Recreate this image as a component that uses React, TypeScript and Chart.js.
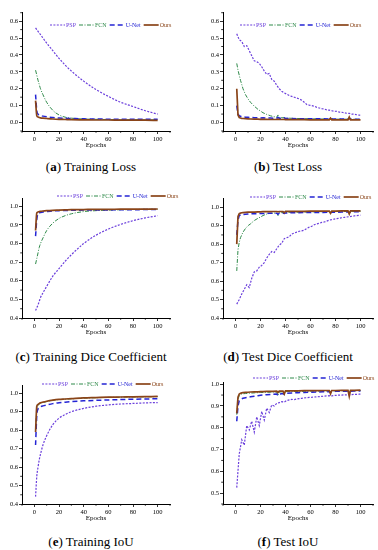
import React, { useEffect, useRef } from "react";
import { Chart, registerables } from "chart.js";

Chart.register(...registerables);

// ---------- series identity ----------
const SERIES_NAMES = ["PSP", "FCN", "U-Net", "Ours"];
const SERIES_COLORS = ["#6b3fdc", "#2f8a4a", "#2424d4", "#8a4418"];
const SERIES_DASH: number[][] = [[2, 1.4], [4, 1.5, 1, 1.5], [5, 3], []];
const SERIES_WIDTH = [1.2, 1, 1.5, 1.7];
const SERIES_ORDER = [3, 2, 1, 0];

// ---------- ticks ----------
const X_TICKS = [0, 20, 40, 60, 80, 100];
const X_MINOR = [-10, 10, 30, 50, 70, 90, 110];
const LOSS_TICKS = [0, 0.1, 0.2, 0.3, 0.4, 0.5, 0.6];
const LOSS_MINOR = [-0.05, 0.05, 0.15, 0.25, 0.35, 0.45, 0.55, 0.65];
const SCORE_TICKS = [0.4, 0.5, 0.6, 0.7, 0.8, 0.9, 1.0];
const SCORE_MINOR = [0.45, 0.55, 0.65, 0.75, 0.85, 0.95];
const IOU_TEST_TICKS = [0.5, 0.6, 0.7, 0.8, 0.9, 1.0];
const IOU_TEST_MINOR = [0.45, 0.55, 0.65, 0.75, 0.85, 0.95];

// ---------- epochs ----------
const EPOCHS_SMOOTH = [1, 2, 3, 4, 5, 7, 10, 15, 20, 25, 30, 40, 50, 60, 70, 80, 90, 100];
const EPOCHS_TEST = [1, 2, 3, 4, 5, 6, 8, 10, 12, 15, 18, 20, 22, 25, 28, 30, 33, 34, 35, 38, 39, 40, 45, 50, 55, 60, 65, 70, 75, 76, 77, 80, 85, 90, 91, 92, 95, 100];
const EPOCHS_PSP = [1, 3, 5, 7, 9, 11, 13, 15, 17, 19, 21, 23, 25, 27, 29, 31, 33, 35, 37, 39, 41, 43, 45, 47, 49, 51, 53, 55, 57, 59, 61, 63, 65, 67, 69, 71, 73, 75, 77, 79, 81, 83, 85, 87, 89, 91, 93, 95, 97, 99, 100];

// ---------- (a) Training Loss ----------
const A_PSP = [0.56, 0.55, 0.54, 0.53, 0.52, 0.5, 0.47, 0.425, 0.38, 0.34, 0.305, 0.245, 0.195, 0.155, 0.12, 0.095, 0.07, 0.05];
const A_FCN = [0.31, 0.28, 0.25, 0.225, 0.2, 0.165, 0.12, 0.072, 0.045, 0.032, 0.026, 0.021, 0.019, 0.018, 0.017, 0.017, 0.016, 0.016];
const A_UNET = [0.165, 0.07, 0.05, 0.045, 0.042, 0.038, 0.034, 0.03, 0.027, 0.025, 0.024, 0.022, 0.021, 0.02, 0.02, 0.019, 0.019, 0.019];
const A_OURS = [0.13, 0.04, 0.033, 0.03, 0.028, 0.026, 0.024, 0.021, 0.019, 0.018, 0.017, 0.016, 0.015, 0.015, 0.014, 0.014, 0.014, 0.013];

// ---------- (b) Test Loss ----------
const B_PSP = [0.525, 0.49, 0.48, 0.45, 0.455, 0.425, 0.395, 0.365, 0.36, 0.35, 0.33, 0.305, 0.285, 0.29, 0.255, 0.245, 0.22, 0.2, 0.185, 0.175, 0.168, 0.16, 0.155, 0.15, 0.145, 0.14, 0.132, 0.12, 0.107, 0.103, 0.1, 0.097, 0.09, 0.086, 0.082, 0.08, 0.075, 0.073, 0.07, 0.067, 0.066, 0.062, 0.061, 0.058, 0.055, 0.054, 0.05, 0.049, 0.046, 0.044, 0.043];
const B_FCN = [0.35, 0.31, 0.28, 0.25, 0.225, 0.2, 0.165, 0.14, 0.12, 0.097, 0.078, 0.068, 0.058, 0.048, 0.04, 0.036, 0.031, 0.045, 0.03, 0.028, 0.029, 0.027, 0.025, 0.024, 0.023, 0.022, 0.022, 0.021, 0.021, 0.021, 0.021, 0.02, 0.02, 0.02, 0.02, 0.02, 0.019, 0.019];
const B_UNET = [0.1, 0.05, 0.04, 0.037, 0.035, 0.034, 0.032, 0.031, 0.03, 0.029, 0.028, 0.027, 0.028, 0.026, 0.027, 0.025, 0.026, 0.03, 0.025, 0.025, 0.028, 0.024, 0.024, 0.023, 0.023, 0.022, 0.022, 0.022, 0.021, 0.024, 0.021, 0.021, 0.021, 0.02, 0.026, 0.02, 0.02, 0.02];
const B_OURS = [0.2, 0.045, 0.03, 0.027, 0.025, 0.024, 0.023, 0.022, 0.021, 0.02, 0.02, 0.019, 0.019, 0.019, 0.018, 0.018, 0.018, 0.02, 0.018, 0.018, 0.019, 0.017, 0.017, 0.017, 0.017, 0.016, 0.016, 0.016, 0.016, 0.026, 0.016, 0.016, 0.016, 0.016, 0.032, 0.016, 0.016, 0.016];

// ---------- (c) Training Dice Coefficient ----------
const C_PSP = [0.44, 0.455, 0.47, 0.49, 0.51, 0.535, 0.57, 0.625, 0.665, 0.705, 0.74, 0.8, 0.845, 0.878, 0.903, 0.923, 0.938, 0.95];
const C_FCN = [0.69, 0.72, 0.75, 0.78, 0.8, 0.83, 0.87, 0.91, 0.935, 0.95, 0.96, 0.972, 0.977, 0.98, 0.982, 0.983, 0.984, 0.985];
const C_UNET = [0.84, 0.93, 0.96, 0.965, 0.967, 0.97, 0.972, 0.975, 0.977, 0.978, 0.979, 0.98, 0.981, 0.981, 0.982, 0.982, 0.983, 0.983];
const C_OURS = [0.87, 0.965, 0.97, 0.972, 0.973, 0.975, 0.977, 0.979, 0.98, 0.981, 0.982, 0.983, 0.984, 0.984, 0.985, 0.985, 0.985, 0.986];

// ---------- (d) Test Dice Coefficient ----------
const D_PSP = [0.475, 0.5, 0.53, 0.555, 0.58, 0.565, 0.615, 0.65, 0.655, 0.675, 0.685, 0.7, 0.725, 0.745, 0.76, 0.755, 0.775, 0.795, 0.805, 0.83, 0.835, 0.84, 0.855, 0.86, 0.865, 0.87, 0.872, 0.876, 0.885, 0.892, 0.897, 0.905, 0.91, 0.913, 0.918, 0.92, 0.925, 0.93, 0.933, 0.936, 0.938, 0.94, 0.943, 0.945, 0.947, 0.949, 0.951, 0.953, 0.955, 0.956, 0.957];
const D_FCN = [0.655, 0.77, 0.81, 0.835, 0.85, 0.865, 0.885, 0.9, 0.91, 0.928, 0.94, 0.947, 0.955, 0.963, 0.967, 0.968, 0.969, 0.955, 0.97, 0.971, 0.966, 0.972, 0.973, 0.973, 0.974, 0.975, 0.975, 0.976, 0.976, 0.971, 0.976, 0.977, 0.977, 0.977, 0.972, 0.977, 0.978, 0.978];
const D_UNET = [0.85, 0.93, 0.955, 0.958, 0.96, 0.961, 0.962, 0.963, 0.964, 0.965, 0.965, 0.966, 0.966, 0.967, 0.967, 0.968, 0.968, 0.962, 0.968, 0.969, 0.966, 0.969, 0.97, 0.97, 0.971, 0.971, 0.972, 0.972, 0.973, 0.97, 0.973, 0.973, 0.974, 0.974, 0.971, 0.974, 0.975, 0.975];
const D_OURS = [0.8, 0.95, 0.965, 0.968, 0.97, 0.971, 0.972, 0.973, 0.974, 0.974, 0.975, 0.975, 0.976, 0.976, 0.976, 0.977, 0.977, 0.975, 0.977, 0.977, 0.97, 0.978, 0.978, 0.978, 0.978, 0.979, 0.979, 0.979, 0.979, 0.967, 0.979, 0.979, 0.98, 0.98, 0.963, 0.98, 0.98, 0.98];

// ---------- (e) Training IoU ----------
const E_PSP = [0.44, 0.55, 0.6, 0.64, 0.67, 0.72, 0.77, 0.83, 0.865, 0.885, 0.9, 0.918, 0.93, 0.937, 0.942, 0.945, 0.948, 0.95];
const E_FCN = [0.8, 0.91, 0.935, 0.942, 0.946, 0.95, 0.955, 0.962, 0.966, 0.968, 0.97, 0.974, 0.976, 0.978, 0.979, 0.98, 0.981, 0.982];
const E_UNET = [0.72, 0.88, 0.915, 0.922, 0.927, 0.932, 0.937, 0.944, 0.949, 0.952, 0.955, 0.959, 0.962, 0.964, 0.966, 0.968, 0.969, 0.971];
const E_OURS = [0.79, 0.93, 0.94, 0.945, 0.948, 0.952, 0.957, 0.963, 0.967, 0.969, 0.971, 0.975, 0.977, 0.979, 0.98, 0.981, 0.982, 0.983];

// ---------- (f) Test IoU ----------
const F_PSP = [0.525, 0.68, 0.745, 0.72, 0.81, 0.79, 0.83, 0.78, 0.85, 0.81, 0.875, 0.835, 0.89, 0.87, 0.905, 0.9, 0.912, 0.915, 0.92, 0.918, 0.925, 0.928, 0.93, 0.929, 0.932, 0.934, 0.935, 0.937, 0.938, 0.939, 0.94, 0.941, 0.942, 0.943, 0.944, 0.945, 0.946, 0.947, 0.946, 0.948, 0.949, 0.95, 0.95, 0.951, 0.951, 0.952, 0.952, 0.953, 0.953, 0.954, 0.954];
const F_FCN = [0.86, 0.93, 0.948, 0.952, 0.955, 0.956, 0.957, 0.958, 0.959, 0.96, 0.961, 0.962, 0.962, 0.963, 0.963, 0.964, 0.964, 0.948, 0.964, 0.965, 0.962, 0.966, 0.966, 0.967, 0.967, 0.968, 0.968, 0.969, 0.969, 0.965, 0.969, 0.97, 0.97, 0.97, 0.966, 0.97, 0.971, 0.971];
const F_UNET = [0.83, 0.9, 0.925, 0.93, 0.933, 0.935, 0.938, 0.94, 0.942, 0.945, 0.947, 0.949, 0.95, 0.952, 0.953, 0.954, 0.955, 0.948, 0.955, 0.957, 0.953, 0.958, 0.96, 0.961, 0.962, 0.963, 0.964, 0.965, 0.966, 0.963, 0.966, 0.967, 0.967, 0.968, 0.965, 0.968, 0.969, 0.969];
const F_OURS = [0.866, 0.94, 0.955, 0.958, 0.96, 0.961, 0.962, 0.963, 0.964, 0.965, 0.965, 0.966, 0.966, 0.967, 0.967, 0.967, 0.968, 0.962, 0.968, 0.968, 0.955, 0.969, 0.969, 0.969, 0.97, 0.97, 0.97, 0.971, 0.971, 0.956, 0.971, 0.971, 0.972, 0.972, 0.944, 0.972, 0.972, 0.973];

type SeriesSpec = { epochs: number[]; values: number[]; smooth: boolean };
type PanelSpec = {
  key: string;
  left: number;
  top: number;
  width: number;
  height: number;
  padTop: number;
  padRight: number;
  yAxisW: number;
  yMin: number;
  yMax: number;
  yTicks: number[];
  yMinor: number[];
  legendX: number;
  legendY: number;
  series: SeriesSpec[];
};

const S = (epochs: number[], values: number[], smooth: boolean): SeriesSpec => ({ epochs, values, smooth });

const PANELS: PanelSpec[] = [
  {
    key: "a",
    left: 0, top: 0, width: 190, height: 153, padTop: 12.7, padRight: 20, yAxisW: 22,
    yMin: -0.05, yMax: 0.65, yTicks: LOSS_TICKS, yMinor: LOSS_MINOR, legendX: 50, legendY: 25,
    series: [S(EPOCHS_SMOOTH, A_PSP, true), S(EPOCHS_SMOOTH, A_FCN, true), S(EPOCHS_SMOOTH, A_UNET, true), S(EPOCHS_SMOOTH, A_OURS, true)],
  },
  {
    key: "b",
    left: 190, top: 0, width: 188, height: 153, padTop: 12.7, padRight: 5, yAxisW: 33,
    yMin: -0.05, yMax: 0.65, yTicks: LOSS_TICKS, yMinor: LOSS_MINOR, legendX: 50, legendY: 25,
    series: [S(EPOCHS_PSP, B_PSP, false), S(EPOCHS_TEST, B_FCN, false), S(EPOCHS_TEST, B_UNET, false), S(EPOCHS_TEST, B_OURS, false)],
  },
  {
    key: "c",
    left: 0, top: 180, width: 190, height: 160, padTop: 18, padRight: 20, yAxisW: 22,
    yMin: 0.4, yMax: 1.045, yTicks: SCORE_TICKS, yMinor: SCORE_MINOR, legendX: 57, legendY: 16,
    series: [S(EPOCHS_SMOOTH, C_PSP, true), S(EPOCHS_SMOOTH, C_FCN, true), S(EPOCHS_SMOOTH, C_UNET, true), S(EPOCHS_SMOOTH, C_OURS, true)],
  },
  {
    key: "d",
    left: 190, top: 180, width: 188, height: 160, padTop: 18, padRight: 5, yAxisW: 33,
    yMin: 0.4, yMax: 1.05, yTicks: SCORE_TICKS, yMinor: SCORE_MINOR, legendX: 60, legendY: 17,
    series: [S(EPOCHS_PSP, D_PSP, false), S(EPOCHS_TEST, D_FCN, false), S(EPOCHS_TEST, D_UNET, false), S(EPOCHS_TEST, D_OURS, false)],
  },
  {
    key: "e",
    left: 0, top: 366, width: 190, height: 160, padTop: 19, padRight: 20, yAxisW: 22,
    yMin: 0.4, yMax: 1.045, yTicks: SCORE_TICKS, yMinor: SCORE_MINOR, legendX: 42, legendY: 18,
    series: [S(EPOCHS_SMOOTH, E_PSP, true), S(EPOCHS_SMOOTH, E_FCN, true), S(EPOCHS_SMOOTH, E_UNET, true), S(EPOCHS_SMOOTH, E_OURS, true)],
  },
  {
    key: "f",
    left: 190, top: 366, width: 188, height: 160, padTop: 16, padRight: 5, yAxisW: 33,
    yMin: 0.45, yMax: 1.01, yTicks: IOU_TEST_TICKS, yMinor: IOU_TEST_MINOR, legendX: 63, legendY: 12,
    series: [S(EPOCHS_PSP, F_PSP, false), S(EPOCHS_TEST, F_FCN, false), S(EPOCHS_TEST, F_UNET, false), S(EPOCHS_TEST, F_OURS, false)],
  },
];

const CAPTIONS = [
  { letter: "a", title: "Training Loss", cx: 91, cy: 167 },
  { letter: "b", title: "Test Loss", cx: 288, cy: 167 },
  { letter: "c", title: "Training Dice Coefficient", cx: 91, cy: 357 },
  { letter: "d", title: "Test Dice Coefficient", cx: 288, cy: 357 },
  { letter: "e", title: "Training IoU", cx: 91, cy: 542 },
  { letter: "f", title: "Test IoU", cx: 288, cy: 542 },
];

const SERIF = "'Liberation Serif', 'Times New Roman', serif";

const inlineLegend = {
  id: "inlineLegend",
  afterDraw(chart: any, _args: any, opts: any) {
    const ctx = chart.ctx;
    ctx.save();
    let x = opts.x;
    const y = opts.y;
    ctx.font = `${opts.fontSize}px ${SERIF}`;
    ctx.textBaseline = "middle";
    ctx.textAlign = "left";
    chart.data.datasets.forEach((ds: any) => {
      ctx.strokeStyle = ds.borderColor;
      ctx.lineWidth = ds.borderWidth;
      ctx.setLineDash(ds.borderDash || []);
      ctx.beginPath();
      ctx.moveTo(x, y);
      ctx.lineTo(x + opts.lineLen, y);
      ctx.stroke();
      x += opts.lineLen + 1;
      ctx.setLineDash([]);
      ctx.fillStyle = ds.borderColor;
      ctx.fillText(ds.label, x, y + 0.5);
      x += ctx.measureText(ds.label).width + opts.gap;
    });
    ctx.restore();
  },
};

const minorTicks = {
  id: "minorTicks",
  afterDraw(chart: any, _args: any, opts: any) {
    const ctx = chart.ctx;
    const xs = chart.scales.x;
    const ys = chart.scales.y;
    ctx.save();
    ctx.strokeStyle = "#000";
    ctx.lineWidth = 0.8;
    (opts.x || []).forEach((v: number) => {
      const px = xs.getPixelForValue(v);
      ctx.beginPath();
      ctx.moveTo(px, xs.top);
      ctx.lineTo(px, xs.top + 1.8);
      ctx.stroke();
    });
    (opts.y || []).forEach((v: number) => {
      if (v < ys.min || v > ys.max) return;
      const py = ys.getPixelForValue(v);
      ctx.beginPath();
      ctx.moveTo(ys.right, py);
      ctx.lineTo(ys.right - 1.8, py);
      ctx.stroke();
    });
    ctx.restore();
  },
};

function Panel({ spec }: { spec: PanelSpec }) {
  const ref = useRef<HTMLCanvasElement | null>(null);
  useEffect(() => {
    if (!ref.current) return;
    const datasets = spec.series.map((s, i) => ({
      label: SERIES_NAMES[i],
      data: s.epochs.map((e, j) => ({ x: e, y: s.values[j] })),
      borderColor: SERIES_COLORS[i],
      backgroundColor: SERIES_COLORS[i],
      borderDash: SERIES_DASH[i],
      borderWidth: SERIES_WIDTH[i],
      order: SERIES_ORDER[i],
      pointRadius: 0,
      fill: false,
      cubicInterpolationMode: s.smooth ? "monotone" : "default",
      tension: 0,
    }));
    const tickFont = { family: SERIF, size: 6.5 };
    const chart = new Chart(ref.current, {
      type: "line",
      data: { datasets } as any,
      options: {
        animation: false,
        responsive: false,
        maintainAspectRatio: false,
        layout: { padding: { top: spec.padTop, right: spec.padRight, left: 0, bottom: 4 } },
        plugins: {
          legend: { display: false },
          tooltip: { enabled: false },
          inlineLegend: { x: spec.legendX, y: spec.legendY, fontSize: 6, lineLen: 15, gap: 3 },
          minorTicks: { x: X_MINOR, y: spec.yMinor },
        } as any,
        scales: {
          x: {
            type: "linear",
            min: -10,
            max: 110,
            afterBuildTicks: (s: any) => {
              s.ticks = X_TICKS.map((v) => ({ value: v }));
            },
            afterFit: (s: any) => {
              s.height = 18;
            },
            ticks: { font: tickFont, color: "#000", padding: 1, maxRotation: 0, autoSkip: false },
            grid: { drawOnChartArea: false, drawTicks: true, tickLength: 3, color: "#000", lineWidth: 0.8 },
            border: { display: true, color: "#000", width: 1 },
            title: { display: true, text: "Epochs", color: "#000", font: { family: SERIF, size: 7 }, padding: 0 },
          },
          y: {
            type: "linear",
            min: spec.yMin,
            max: spec.yMax,
            afterBuildTicks: (s: any) => {
              s.ticks = spec.yTicks.map((v) => ({ value: v }));
            },
            afterFit: (s: any) => {
              s.width = spec.yAxisW;
            },
            ticks: {
              font: tickFont,
              color: "#000",
              padding: 1,
              autoSkip: false,
              callback: (v: any) => Number(v).toFixed(1),
            },
            grid: { drawOnChartArea: false, drawTicks: true, tickLength: 3, color: "#000", lineWidth: 0.8 },
            border: { display: true, color: "#000", width: 1 },
          },
        },
      } as any,
      plugins: [inlineLegend, minorTicks],
    });
    return () => chart.destroy();
  }, [spec]);
  return (
    <canvas
      ref={ref}
      width={spec.width}
      height={spec.height}
      style={{ position: "absolute", left: spec.left, top: spec.top, width: spec.width, height: spec.height }}
    />
  );
}

export default function App() {
  return (
    <div style={{ position: "absolute", left: 0, top: 0, width: 378, height: 550, background: "#fff", overflow: "hidden" }}>
      {PANELS.map((p) => (
        <Panel key={p.key} spec={p} />
      ))}
      {CAPTIONS.map((c) => (
        <div
          key={c.letter}
          style={{
            position: "absolute",
            left: c.cx - 100,
            width: 200,
            top: c.cy - 9,
            height: 18,
            lineHeight: "18px",
            textAlign: "center",
            fontFamily: SERIF,
            fontSize: 13,
            fontWeight: 400,
            color: "#000",
            whiteSpace: "nowrap",
          }}
        >
          (<b>{c.letter}</b>) {c.title}
        </div>
      ))}
    </div>
  );
}
